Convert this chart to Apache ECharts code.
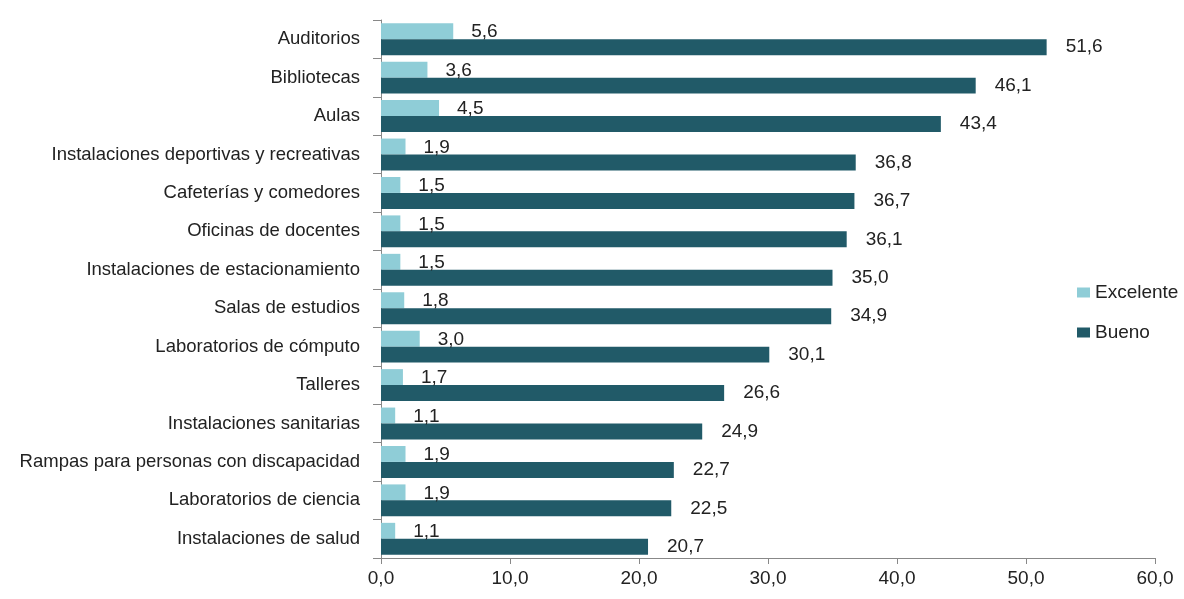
<!DOCTYPE html>
<html><head><meta charset="utf-8">
<script src="https://cdn.jsdelivr.net/npm/echarts@6/dist/echarts.min.js"></script>
<style>html,body{margin:0;padding:0;background:#fff}#c{width:1184px;height:599px}</style>
</head><body><div id="c"></div>
<script>
const categories = ["Auditorios","Bibliotecas","Aulas","Instalaciones deportivas y recreativas","Cafeterías y comedores","Oficinas de docentes","Instalaciones de estacionamiento","Salas de estudios","Laboratorios de cómputo","Talleres","Instalaciones sanitarias","Rampas para personas con discapacidad","Laboratorios de ciencia","Instalaciones de salud"];
const excelente = [5.6,3.6,4.5,1.9,1.5,1.5,1.5,1.8,3.0,1.7,1.1,1.9,1.9,1.1];
const bueno = [51.6,46.1,43.4,36.8,36.7,36.1,35.0,34.9,30.1,26.6,24.9,22.7,22.5,20.7];
const xTicks = [0,10,20,30,40,50,60];

const fmt = v => Number(v).toFixed(1).replace('.', ',');
const FF = 'Liberation Sans, Arial, sans-serif';
const chart = echarts.init(document.getElementById('c'));
chart.setOption({
  animation:false,
  textStyle:{fontFamily:FF},
  grid:{left:381,right:29,top:20,bottom:41,containLabel:false},
  legend:{orient:'vertical',left:1072,top:278,itemGap:21,itemWidth:13,itemHeight:10,icon:'rect',
    textStyle:{fontSize:19,color:'#222',fontFamily:FF,padding:[0,0,0,0]},data:['Excelente','Bueno']},
  xAxis:{type:'value',min:xTicks[0],max:xTicks[xTicks.length-1],interval:10,
    axisLine:{show:true,lineStyle:{color:'#888'}},axisTick:{show:true,length:6,lineStyle:{color:'#888'}},
    splitLine:{show:false},
    axisLabel:{formatter:v=>fmt(v),fontSize:19,color:'#222',margin:11}},
  yAxis:{type:'category',data:categories,inverse:true,
    axisLine:{show:true,lineStyle:{color:'#888'}},axisTick:{show:true,length:8,lineStyle:{color:'#888'}},
    axisLabel:{fontSize:18.5,color:'#222',margin:21}},
  series:[
    {name:'Excelente',type:'bar',data:excelente,barGap:'0%',barCategoryGap:'17%',
     itemStyle:{color:'#8fcdd7'},
     label:{show:true,position:'right',distance:18,fontSize:19,color:'#222',offset:[0,1],formatter:p=>fmt(p.value)}},
    {name:'Bueno',type:'bar',data:bueno,barGap:'0%',barCategoryGap:'17%',
     itemStyle:{color:'#215a68'},
     label:{show:true,position:'right',distance:19,fontSize:19,color:'#222',formatter:p=>fmt(p.value)}}
  ]
});
</script></body></html>
